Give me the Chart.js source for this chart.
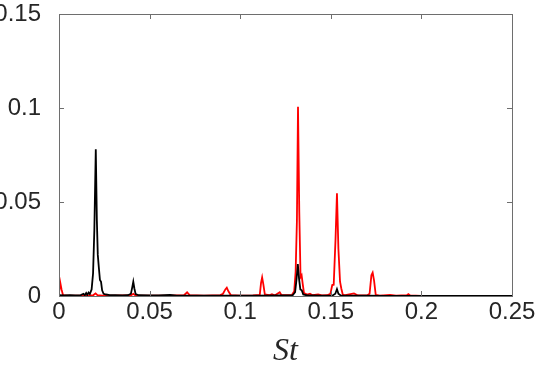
<!DOCTYPE html>
<html>
<head>
<meta charset="utf-8">
<script src="https://cdn.jsdelivr.net/npm/chart.js@4/dist/chart.umd.min.js"></script>
<style>
html,body{margin:0;padding:0;background:#fff;}
#wrap{width:538px;height:371px;position:relative;}
</style>
</head>
<body>
<div id="wrap"><canvas id="c" width="538" height="371"></canvas></div>
<script>
// Black series (St, amplitude)
const blackSt = [0,0.003,0.006,0.009,0.012,0.0135,0.0142,0.0150,0.0156,0.0163,0.0170,0.0180,0.0188,0.0195,0.0203,0.0209,0.0214,0.0220,0.0226,0.0232,0.0238,0.0246,0.026,0.028,0.031,0.035,0.038,0.0397,0.0405,0.0410,0.0416,0.0423,0.044,0.05,0.055,0.0613,0.065,0.07,0.08,0.09,0.1,0.11,0.12,0.126,0.129,0.1303,0.1311,0.1318,0.1325,0.1332,0.1340,0.1348,0.137,0.14,0.145,0.151,0.1525,0.1534,0.1542,0.1555,0.16,0.17,0.18,0.2,0.25];
const blackVal = [0.0004,0.0003,0.0004,0.0003,0.0005,0.0012,0.0004,0.0016,0.0006,0.0018,0.0010,0.0035,0.012,0.035,0.078,0.040,0.022,0.015,0.0085,0.0075,0.003,0.0012,0.0008,0.0005,0.0004,0.0003,0.0004,0.0012,0.005,0.0076,0.004,0.0010,0.0004,0.0003,0.0003,0.0006,0.0002,0.0002,0.0002,0.0002,0.0002,0.0002,0.0003,0.0003,0.0005,0.0020,0.009,0.017,0.009,0.0035,0.0030,0.0008,0.0003,0.0003,0.0002,0.0003,0.0012,0.0037,0.0012,0.0003,0.0002,0.0002,0.0001,0.0001,0.0001];

// Red series (St, amplitude)
const redSt = [0,0.0007,0.0014,0.0022,0.005,0.01,0.015,0.019,0.0202,0.0212,0.024,0.03,0.0398,0.0410,0.0422,0.05,0.06,0.069,0.0707,0.0722,0.08,0.089,0.0905,0.0918,0.0926,0.0935,0.0948,0.1,0.107,0.1108,0.1115,0.1121,0.1128,0.1136,0.116,0.1175,0.119,0.1218,0.1228,0.126,0.1285,0.1298,0.1306,0.1313,0.1319,0.1326,0.1333,0.1339,0.1345,0.1352,0.137,0.1385,0.140,0.143,0.145,0.148,0.1498,0.1508,0.1516,0.1526,0.1534,0.1542,0.1551,0.1558,0.1566,0.158,0.1628,0.165,0.170,0.1714,0.1724,0.1731,0.1739,0.1748,0.177,0.1827,0.186,0.1920,0.1928,0.1938,0.2,0.25];
const redVal = [0.0015,0.0071,0.0035,0.0005,0.0002,0.0002,0.0002,0.0005,0.0014,0.0005,0.0002,0.0002,0.0004,0.0012,0.0003,0.0002,0.0002,0.0004,0.0020,0.0004,0.0002,0.0005,0.0012,0.0035,0.0044,0.0025,0.0005,0.0002,0.0003,0.0006,0.0070,0.0099,0.0060,0.0008,0.0004,0.0009,0.0003,0.0020,0.0004,0.0005,0.0006,0.0025,0.013,0.040,0.1007,0.045,0.010,0.011,0.0065,0.0015,0.0008,0.0012,0.0004,0.0009,0.0003,0.0004,0.0012,0.0058,0.0060,0.030,0.0546,0.025,0.0076,0.0040,0.0008,0.0004,0.0014,0.0003,0.0003,0.0012,0.0110,0.0124,0.0080,0.0006,0.0002,0.0006,0.0002,0.0004,0.0010,0.0003,0.0001,0.0001];

const xTickLabels = ['0','0.05','0.1','0.15','0.2','0.25'];
const yTickLabels = ['0','0.05','0.1','0.15'];
const xTitle = 'St';

const toPts = (xs, ys) => xs.map((x, i) => ({x: x, y: ys[i]}));

const boxPlugin = {
  id: 'box',
  afterDraw(chart) {
    const ctx = chart.ctx, a = chart.chartArea;
    const xs = chart.scales.x, ys = chart.scales.y;
    ctx.save();
    ctx.strokeStyle = '#6e6e6e';
    ctx.lineWidth = 1;
    ctx.beginPath();
    const L = 5;
    xs.ticks.forEach(t => {
      const p = Math.round(xs.getPixelForValue(t.value)) + 0.5;
      ctx.moveTo(p, a.bottom); ctx.lineTo(p, a.bottom - L);
      ctx.moveTo(p, a.top); ctx.lineTo(p, a.top + L);
    });
    ys.ticks.forEach(t => {
      const p = Math.round(ys.getPixelForValue(t.value)) + 0.5;
      ctx.moveTo(a.left, p); ctx.lineTo(a.left + L, p);
      ctx.moveTo(a.right, p); ctx.lineTo(a.right - L, p);
    });
    ctx.stroke();
    ctx.strokeRect(Math.round(a.left) + 0.5, Math.round(a.top) + 0.5,
                   Math.round(a.right - a.left), Math.round(a.bottom - a.top));
    ctx.restore();
  }
};

new Chart(document.getElementById('c'), {
  type: 'scatter',
  data: {
    datasets: [
      {label: 'black', data: toPts(blackSt, blackVal), showLine: true, borderColor: '#000000', borderWidth: 1.8, pointRadius: 0, tension: 0, order: 0},
      {label: 'red', data: toPts(redSt, redVal), showLine: true, borderColor: '#ff0000', borderWidth: 1.8, pointRadius: 0, tension: 0, order: 1}
    ]
  },
  options: {
    responsive: false,
    animation: false,
    events: [],
    layout: {padding: {top: 14, right: 26, left: 0, bottom: 0}},
    plugins: {legend: {display: false}, tooltip: {enabled: false}},
    scales: {
      x: {
        type: 'linear', min: 0, max: 0.25,
        afterFit: s => { s.height = 75; s.paddingLeft = 0; s.paddingRight = 0; },
        grid: {display: false, drawTicks: false},
        border: {display: false},
        ticks: {
          stepSize: 0.05, padding: 2, color: '#262626', maxRotation: 0,
          font: {family: 'Liberation Sans', size: 24},
          callback: (v, i) => xTickLabels[i]
        },
        title: {display: true, text: xTitle, color: '#262626',
          font: {family: 'Liberation Serif', size: 32, style: 'italic'},
          padding: {top: 0, bottom: 0}}
      },
      y: {
        min: 0, max: 0.15,
        afterFit: s => { s.width = 59; s.paddingTop = 0; s.paddingBottom = 0; },
        grid: {display: false, drawTicks: false},
        border: {display: false},
        ticks: {
          stepSize: 0.05, padding: 18, color: '#262626',
          font: {family: 'Liberation Sans', size: 24},
          callback: (v, i) => yTickLabels[i]
        }
      }
    }
  },
  plugins: [boxPlugin]
});
</script>
</body>
</html>
